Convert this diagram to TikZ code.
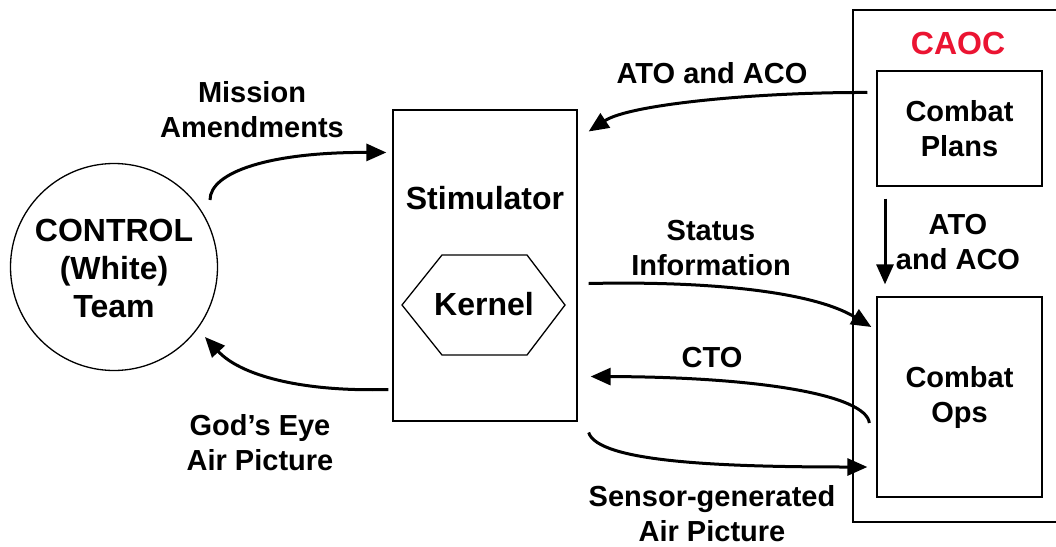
\documentclass[tikz,border=0pt]{standalone}
\usepackage{fontspec}
\setmainfont{Liberation Sans}
\usetikzlibrary{arrows.meta,calc}
\definecolor{caocred}{RGB}{235,20,50}
\begin{document}
\begin{tikzpicture}[x=1pt,y=-1pt,
  box/.style={draw,line width=1.3pt,inner sep=0pt,rectangle},
  lbl/.style={font=\fontsize{29}{35}\selectfont\bfseries,align=center,inner sep=0pt},
  big/.style={font=\fontsize{32}{38}\selectfont\bfseries,align=center,inner sep=0pt},
  flow/.style={line width=3pt,-{Triangle[length=20pt,width=17pt]}}]
\useasboundingbox (0,0) rectangle (1056,546);
% outer CAOC frame
\draw[line width=1.3pt] (1060,10) -- (853,10) -- (853,522) -- (1060,522);
\node[big,text=caocred] (caoc) at (958,43) {CAOC};
% nodes
\node[draw,line width=1.3pt,circle,minimum size=207pt,inner sep=0pt] (ctrl) at (114,267) {};
\node[big] (ctrltxt) at (114,268) {CONTROL\\(White)\\Team};
\node[box,minimum width=184pt,minimum height=311pt] (stim) at (485,265.5) {};
\node[big] (stimtxt) at (485,198) {Stimulator};
\draw[line width=1.3pt] (402,305) -- (442,255) -- (527,255) -- (565,305) -- (527,355) -- (442,355) -- cycle;
\node[big] (kernel) at (484,304) {Kernel};
\node[box,minimum width=165pt,minimum height=115pt,lbl] (plans) at (959.5,128.5) {Combat\\Plans};
\node[box,minimum width=165pt,minimum height=200pt,lbl] (ops) at (959.5,397) {Combat\\Ops};
% connectors
\draw[flow] ($(ctrl.center)+(96,-67)$) .. controls (210,172) and (270,152) .. ($(stim.west)+(-6,-113)$);
\draw[flow] ($(plans.west)+(-9,-36)$) .. controls (760,92) and (630,104) .. ($(stim.east)+(11,-134)$);
\draw[flow] ($(stim.east)+(11,18)$) .. controls (700,281) and (810,290) .. ($(ops.west)+(-5,-70)$);
\draw[flow] ($(ops.west)+(-7,26)$) .. controls (866,395) and (760,377) .. ($(stim.east)+(13,111)$);
\draw[flow] ($(stim.east)+(11,167)$) .. controls (598,462) and (720,467) .. ($(ops.west)+(-9,70)$);
\draw[flow] ($(stim.west)+(-4,124)$) .. controls (300,392) and (240,375) .. ($(ctrl.center)+(91,70)$);
\draw[flow] ($(plans.south)+(-74.5,12)$) -- ($(ops.north)+(-74.5,-12)$);
% labels
\node[lbl] (l1) at (252,110) {Mission\\Amendments};
\node[lbl] (l2) at (712,73) {ATO and ACO};
\node[lbl] (l3) at (711,248) {Status\\Information};
\node[lbl] (l4) at (712,358) {CTO};
\node[lbl] (l5) at (260,443) {God’s Eye\\Air Picture};
\node[lbl] (l6) at (712,514) {Sensor-generated\\Air Picture};
\node[lbl] (l7) at (958,242) {ATO\\and ACO};
\end{tikzpicture}
\end{document}
